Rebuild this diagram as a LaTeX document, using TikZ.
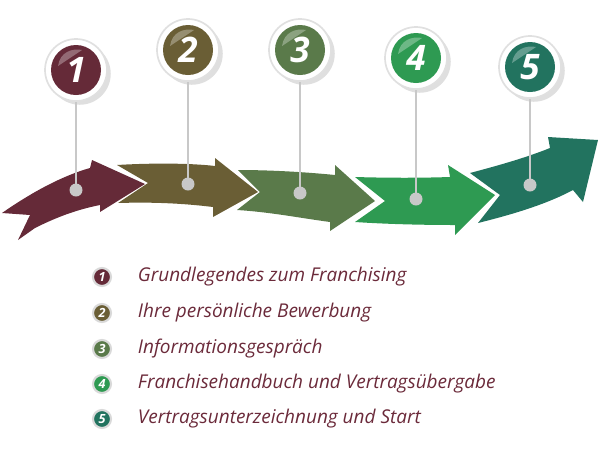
\documentclass[tikz,border=0pt]{standalone}
\usepackage{fontspec}
\setmainfont{Open Sans}
\usetikzlibrary{positioning,calc,shadows}
\definecolor{cA}{HTML}{652A38}
\definecolor{cB}{HTML}{6A5E35}
\definecolor{cC}{HTML}{5A7A4A}
\definecolor{cD}{HTML}{2E9A52}
\definecolor{cE}{HTML}{22735F}
\definecolor{txt}{HTML}{6B2A3A}
\definecolor{pingrey}{HTML}{C8C8C8}
\tikzset{
  ring/.style={circle, fill=white, draw=black!12, line width=1.2pt, minimum size=62*0.025cm, drop shadow={opacity=0.25}},
  ball/.style={circle, fill=#1, minimum size=50*0.025cm, inner sep=0pt, text=white,
               font=\fontsize{25}{25}\selectfont\bfseries\itshape},
  mini/.style={circle, fill=#1, draw=black!15, line width=1.5pt, minimum size=18*0.025cm, inner sep=0pt,
               text=white, font=\fontsize{9}{9}\selectfont\bfseries\itshape},
  dot/.style={circle, fill=pingrey, minimum size=13*0.025cm, inner sep=0pt},
  stick/.style={draw=pingrey, line width=1.5pt},
  label/.style={anchor=west, text=txt, font=\fontsize{13.5}{15}\selectfont\itshape}
}
\begin{document}
\begin{tikzpicture}[x=0.025cm, y=-0.025cm]
 \useasboundingbox (0,0) rectangle (600,450);

 %arrows
 \fill[cA] (2,213) .. controls (35,190) and (65,175) .. (90,168) -- (92,160) -- (145,184) -- (100,212)
   -- (100,205) .. controls (75,210) and (55,218) .. (35,228) -- (18,240) -- (30,215) -- cycle;
 \fill[cB] (117,165) .. controls (150,163) and (190,163) .. (215,166) -- (215,158) -- (258,192) -- (213,217)
   -- (213,207) .. controls (180,203) and (150,202) .. (118,203) -- (148,183) -- cycle;
 \fill[cC] (238,170) .. controls (270,170) and (305,172) .. (335,175) -- (335,165) -- (375,201) -- (330,231)
   -- (330,222) .. controls (300,218) and (270,212) .. (237,210) -- (260,192) -- cycle;
 \fill[cD] (355,177) .. controls (390,178) and (420,178) .. (450,177) -- (448,165) -- (495,195) -- (455,235)
   -- (455,225) .. controls (420,225) and (385,224) .. (355,222) -- (385,201) -- cycle;
 \fill[cE] (470,173) .. controls (500,165) and (525,158) .. (550,148) -- (548,137) -- (598,140) -- (583,202)
   -- (573,190) .. controls (545,205) and (510,215) .. (478,223) -- (500,195) -- cycle;

 %pins
 \foreach \n/\cx/\cy/\dy/\col in {1/76/70/190/cA, 2/188/50/184/cB, 3/300/50/193/cC, 4/416/58/199/cD, 5/530/67/185/cE}{
   \node[dot] (d\n) at (\cx,\dy) {};
   \node[ring] (r\n) at (\cx,\cy) {};
   \draw[stick] (d\n.center) -- (r\n.south);
   \node[ball=\col] (b\n) at (\cx,\cy) {\n};
   \fill[white, opacity=0.3] (\cx-18,\cy-4) .. controls (\cx-16,\cy-18) and (\cx-4,\cy-22) .. (\cx+6,\cy-20) -- cycle;
 }

 %legend
 \foreach \n/\y/\col/\t in {1/277/cA/Grundlegendes zum Franchising,
                            2/313/cB/Ihre persönliche Bewerbung,
                            3/349/cC/Informationsgespräch,
                            4/384/cD/Franchisehandbuch und Vertragsübergabe,
                            5/419/cE/Vertragsunterzeichnung und Start}{
   \node[mini=\col] (m\n) at (102,\y) {\n};
   \node[label] (t\n) at (133,\y) {\t};
 }
\end{tikzpicture}
\end{document}
